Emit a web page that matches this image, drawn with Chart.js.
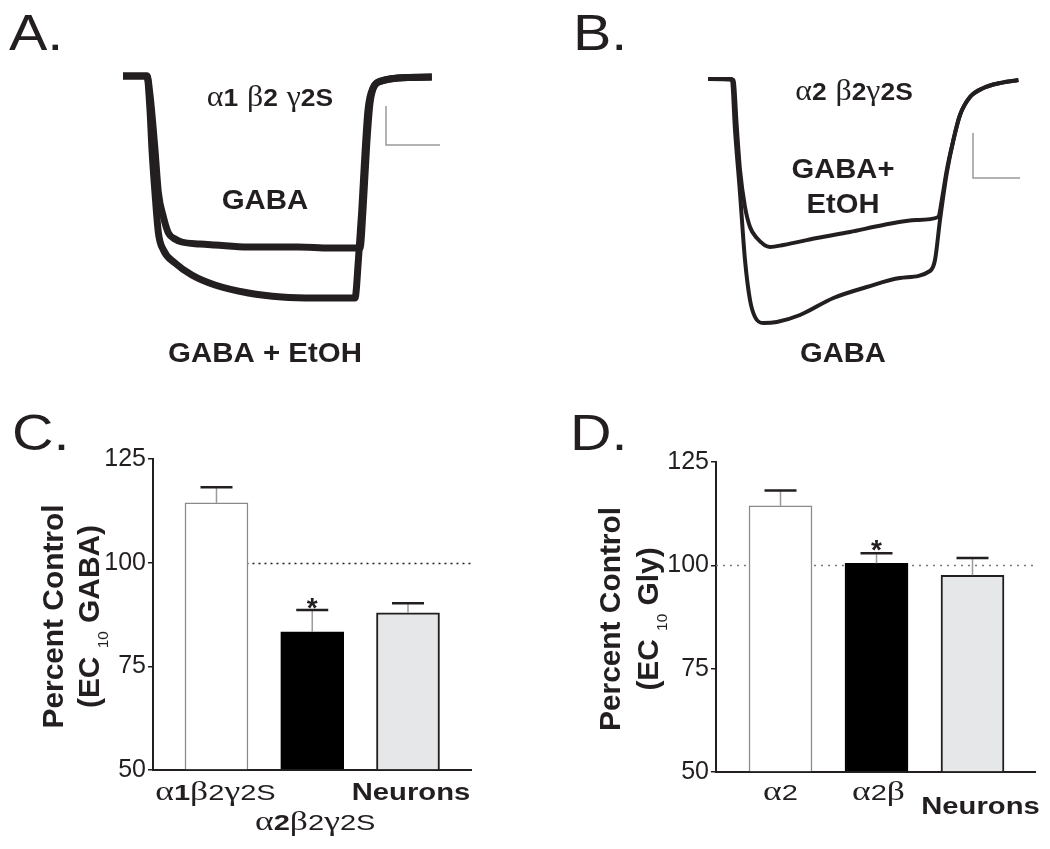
<!DOCTYPE html>
<html>
<head>
<meta charset="utf-8">
<title>GABA-A receptor ethanol responses</title>
<script src="https://cdn.jsdelivr.net/npm/chart.js@4.4.1/dist/chart.umd.min.js"></script>
<style>
  body { margin: 0; background: #fff; width: 1050px; height: 849px; position: relative; overflow: hidden; }
  .letter { position: absolute; font: 50px "Liberation Sans", Arial, sans-serif; line-height: 1; color: #231f20; transform: scaleX(1.15); transform-origin: left top; }
  canvas { position: absolute; }
</style>
</head>
<body>
<div class="letter" style="left:9px;top:8px">A.</div>
<div class="letter" style="left:573px;top:8px">B.</div>
<div class="letter" style="left:12px;top:408px">C.</div>
<div class="letter" style="left:570px;top:408px">D.</div>

<canvas id="chartA" width="520" height="380" style="left:0;top:0"></canvas>
<canvas id="chartB" width="520" height="380" style="left:530px;top:0"></canvas>
<canvas id="chartC" width="525" height="469" style="left:0;top:380px"></canvas>
<canvas id="chartD" width="520" height="469" style="left:530px;top:380px"></canvas>

<script>
/* ---- data: current traces (time in s, current in nA) ---- */

// A: alpha1 beta2 gamma2S
const aGabaTime = [0, 1.2, 1.35, 1.6, 1.77, 2.02, 2.27, 2.6, 2.94, 3.85, 4.6, 6.25, 8.75, 10.35, 11.85, 12.0, 12.19, 12.35, 12.6, 13.1, 13.75, 15.44];
const aGabaCurrent = [0, 0, -0.19, -0.74, -1.17, -1.41, -1.57, -1.63, -1.66, -1.68, -1.69, -1.71, -1.71, -1.72, -1.72, -1.34, -0.67, -0.27, -0.09, -0.04, -0.02, -0.01];
const aEtohTime = [0, 1.2, 1.35, 1.45, 1.6, 1.77, 2.02, 2.6, 3.44, 4.6, 6.27, 7.94, 9.6, 11.6, 11.77, 11.94, 12.1, 12.25, 12.5, 12.94, 13.75, 15.44];
const aEtohCurrent = [0, 0, -0.34, -0.74, -1.17, -1.57, -1.74, -1.87, -1.99, -2.09, -2.17, -2.21, -2.22, -2.22, -1.84, -1.34, -0.77, -0.34, -0.12, -0.05, -0.02, -0.01];
const aScaleBar = [13.15, -0.69, 2.7, 0.39]; // t0, i0, dt, di

// B: alpha2 beta2 gamma2S
const bGabaTime = [0, 1.19, 1.35, 1.6, 1.85, 2.1, 2.35, 2.77, 3.44, 4.6, 6.27, 7.94, 9.6, 11.1, 11.35, 11.6, 11.94, 12.27, 12.6, 13.1, 13.77, 14.6, 15.52];
const bGabaCurrent = [0, 0, -0.51, -1.14, -1.81, -2.21, -2.38, -2.44, -2.43, -2.36, -2.19, -2.08, -1.99, -1.92, -1.81, -1.41, -0.94, -0.61, -0.36, -0.18, -0.09, -0.04, -0.01];
const bEtohTime = [0, 1.27, 1.44, 1.6, 1.85, 2.1, 2.44, 3.1, 3.77, 5.44, 7.1, 8.77, 10.44, 11.52, 11.69, 11.94, 12.27, 12.6, 13.1, 13.77, 14.6, 15.52];
const bEtohCurrent = [0, -0.01, -0.48, -0.91, -1.28, -1.48, -1.59, -1.68, -1.66, -1.59, -1.53, -1.46, -1.41, -1.38, -1.21, -0.91, -0.61, -0.36, -0.18, -0.09, -0.04, -0.01];
const bScaleBar = [13.25, -0.99, 2.35, 0.45];

/* ---- data: percent of control ---- */
const cCategories = ["α1β2γ2S", "α2β2γ2S", "Neurons"];
const cValues = [114.4, 83.3, 87.9];
const cErrors = [3.8, 5.3, 2.3];
const cSignificant = [false, true, false];

const dCategories = ["α2", "α2β", "Neurons"];
const dValues = [114.4, 100.5, 97.6];
const dErrors = [3.7, 2.4, 4.2];
const dSignificant = [false, true, false];

const yTicks = [50, 75, 100, 125];
const controlLevel = 100;

/* ---- style ---- */
const INK = "#231f20";
const SANS = '"Liberation Sans", Arial, sans-serif';
const SERIF = '"Liberation Serif", "Times New Roman", serif';
const barFills = ["#ffffff", "#000000", "#e6e7e8"];
const barBorders = ["#8a8a8a", "#000000", INK];
const barBorderWidths = [1.5, 1.5, 2];

Chart.defaults.font.family = SANS;
Chart.defaults.color = INK;

function drawRuns(ctx, runs, x, y, opt = {}) {
  ctx.save();
  ctx.translate(x, y);
  if (opt.rotate) ctx.rotate(opt.rotate);
  ctx.scale(opt.sx || 1, 1);
  let total = 0;
  runs.forEach((r) => {
    if (r.gap) { r.w = r.gap; } else { ctx.font = r.font; r.w = ctx.measureText(r.text).width; }
    total += r.w;
  });
  let cx = opt.align === "left" ? 0 : opt.align === "right" ? -total : -total / 2;
  ctx.fillStyle = INK;
  ctx.textAlign = "left";
  ctx.textBaseline = "alphabetic";
  runs.forEach((r) => {
    if (!r.gap) {
      ctx.font = r.font;
      ctx.fillText(r.text, cx, r.dy || 0);
    }
    cx += r.w;
  });
  ctx.restore();
}

const bold = (t, s) => ({ text: t, font: `bold ${s}px ${SANS}` });
const plain = (t, s) => ({ text: t, font: `${s}px ${SANS}` });
const greek = (t, s) => ({ text: t, font: `${s}px ${SERIF}` });

// subunit header, e.g. α1 β2 γ2S
function headerRuns(parts) {
  const runs = [];
  parts.forEach((p) => {
    if (p === " ") runs.push({ gap: 8 });
    else if (/[α-ω]/.test(p)) runs.push(greek(p, 29));
    else runs.push(bold(p, 24));
  });
  return runs;
}

// category label under a bar
function categoryRuns(label, boldSubunit) {
  if (!/[α-ω]/.test(label)) return { runs: [bold(label, 23)], sx: 1.27 };
  const runs = [...label].map((ch, i) => {
    if (/[α-ω]/.test(ch)) return greek(ch, 27);
    if (boldSubunit && label[i - 1] === "α") return bold(ch, 22);
    return plain(ch, 22);
  });
  return { runs, sx: 1.32 };
}

/* ---- panels A and B: traces ---- */
function points(t, v) {
  return t.map((x, i) => ({ x, y: v[i] }));
}

function tracePlugin(bar, texts) {
  return {
    id: "traceExtras",
    afterDraw(chart) {
      const { ctx, scales: { x, y } } = chart;
      const x0 = x.getPixelForValue(bar[0]);
      const x1 = x.getPixelForValue(bar[0] + bar[2]);
      const y0 = y.getPixelForValue(bar[1]);
      const y1 = y.getPixelForValue(bar[1] + bar[3]);
      ctx.save();
      ctx.strokeStyle = "#9a9a9a";
      ctx.lineWidth = 1.5;
      ctx.beginPath();
      ctx.moveTo(x0, y1);
      ctx.lineTo(x0, y0);
      ctx.lineTo(x1, y0);
      ctx.stroke();
      ctx.restore();
      texts.forEach((t) => drawRuns(ctx, t.runs, t.x, t.y, { sx: t.sx }));
    },
  };
}

function traceChart(id, series, width, padding, yMin, bar, texts) {
  return new Chart(document.getElementById(id), {
    type: "line",
    data: {
      datasets: series.map((s) => ({
        data: points(s.t, s.v),
        borderColor: INK,
        borderWidth: width,
        pointRadius: 0,
        cubicInterpolationMode: "monotone",
        clip: false,
      })),
    },
    options: {
      responsive: false,
      animation: false,
      events: [],
      layout: { padding },
      plugins: { legend: { display: false }, tooltip: { enabled: false } },
      scales: {
        x: { type: "linear", display: false, min: 0, max: 15.5 },
        y: { type: "linear", display: false, min: yMin, max: 0.1 },
      },
    },
    plugins: [tracePlugin(bar, texts)],
  });
}

traceChart("chartA",
  [{ t: aGabaTime, v: aGabaCurrent }, { t: aEtohTime, v: aEtohCurrent }],
  7, { left: 123, right: 87, top: 66, bottom: 64 }, -2.4, aScaleBar,
  [
    { runs: headerRuns(["α", "1", " ", "β", "2", " ", "γ", "2S"]), x: 270, y: 106, sx: 1.1 },
    { runs: [bold("GABA", 27)], x: 265, y: 209, sx: 1.09 },
    { runs: [bold("GABA + EtOH", 27)], x: 265, y: 362, sx: 1.09 },
  ]);

traceChart("chartB",
  [{ t: bGabaTime, v: bGabaCurrent }, { t: bEtohTime, v: bEtohCurrent }],
  4, { left: 178, right: 32, top: 69, bottom: 51 }, -2.5, bScaleBar,
  [
    { runs: headerRuns(["α", "2", " ", "β", "2", "γ", "2S"]), x: 324, y: 100, sx: 1.1 },
    { runs: [bold("GABA+", 27)], x: 313, y: 178, sx: 1.08 },
    { runs: [bold("EtOH", 27)], x: 313, y: 213, sx: 1.08 },
    { runs: [bold("GABA", 27)], x: 313, y: 362, sx: 1.08 },
  ]);

/* ---- panels C and D: bars ---- */
function barPlugin(cfg) {
  return {
    id: "barExtras",
    beforeDatasetsDraw(chart) {
      const { ctx, chartArea, scales: { x, y } } = chart;
      const yr = Math.round(y.getPixelForValue(controlLevel)) + 0.5;
      ctx.save();
      ctx.strokeStyle = cfg.refColor;
      ctx.lineWidth = 1.5;
      ctx.setLineDash(cfg.refDash);
      ctx.beginPath();
      ctx.moveTo(x.getPixelForValue(cfg.refFrom), yr);
      ctx.lineTo(chartArea.right, yr);
      ctx.stroke();
      ctx.restore();
    },
    afterDatasetsDraw(chart) {
      const { ctx, scales: { x, y } } = chart;
      ctx.save();
      cfg.values.forEach((v, i) => {
        const xp = x.getPixelForValue(i);
        const top = y.getPixelForValue(v);
        const cap = y.getPixelForValue(v + cfg.errors[i]);
        ctx.strokeStyle = "#9a9a9a";
        ctx.lineWidth = 1.5;
        ctx.beginPath();
        ctx.moveTo(xp, top);
        ctx.lineTo(xp, cap);
        ctx.stroke();
        ctx.strokeStyle = INK;
        ctx.lineWidth = 2.5;
        ctx.beginPath();
        ctx.moveTo(xp - 16, cap);
        ctx.lineTo(xp + 16, cap);
        ctx.stroke();
        if (cfg.significant[i]) {
          drawRuns(ctx, [bold("*", 28)], xp, cap + cfg.starDrop, {});
        }
      });
      ctx.restore();
    },
    afterDraw(chart) {
      const { ctx, chartArea, scales: { x } } = chart;
      cfg.categories.forEach((c, i) => {
        const lab = categoryRuns(c, cfg.boldSubunit);
        drawRuns(ctx, lab.runs, x.getPixelForValue(i) + cfg.labelShift[i], chartArea.bottom + cfg.labelDrop[i], { sx: lab.sx });
      });
      const cy = (chartArea.top + chartArea.bottom) / 2 + 2;
      const rot = -Math.PI / 2;
      drawRuns(ctx, [{ ...bold("Percent Control", 29), dy: 10 }], chartArea.left - cfg.titleOffsets[0], cy, { rotate: rot, sx: 1.03 });
      drawRuns(ctx, [
        { ...bold("(EC", 29), dy: 10 },
        { gap: 8 },
        { ...plain("10", 15), dy: 19 },
        { gap: 8 },
        { ...bold(cfg.agonist + ")", 29), dy: 10 },
      ], chartArea.left - cfg.titleOffsets[1], cy, { rotate: rot, sx: 1.03 });
    },
  };
}

function barChart(id, cfg) {
  return new Chart(document.getElementById(id), {
    type: "bar",
    data: {
      datasets: [{
        data: cfg.values.map((v, i) => ({ x: i, y: v })),
        base: yTicks[0],
        backgroundColor: barFills,
        borderColor: barBorders,
        borderWidth: barBorderWidths,
        borderSkipped: "bottom",
        barThickness: 63,
      }],
    },
    options: {
      responsive: false,
      animation: false,
      events: [],
      layout: { padding: cfg.padding },
      plugins: { legend: { display: false }, tooltip: { enabled: false } },
      scales: {
        x: {
          type: "linear",
          offset: false,
          min: cfg.xRange[0],
          max: cfg.xRange[1],
          grid: { display: false },
          ticks: { display: false },
          border: { display: true, color: INK, width: 2 },
        },
        y: {
          min: yTicks[0],
          max: yTicks[yTicks.length - 1],
          afterBuildTicks: (s) => { s.ticks = yTicks.map((v) => ({ value: v })); },
          afterFit: (s) => { s.width = cfg.axisWidth; },
          grid: { drawOnChartArea: false, drawTicks: true, tickLength: 5, color: INK, lineWidth: 1.5 },
          border: { display: true, color: INK, width: 2 },
          ticks: { font: { size: 25 }, color: INK, padding: 2 },
        },
      },
    },
    plugins: [barPlugin(cfg)],
  });
}

barChart("chartC", {
  values: cValues,
  errors: cErrors,
  significant: cSignificant,
  categories: cCategories,
  boldSubunit: true,
  agonist: "GABA",
  padding: { left: 0, right: 54, top: 79, bottom: 71 },
  axisWidth: 153,
  xRange: [-0.663, 2.658],
  refFrom: 0,
  refColor: "#231f20",
  refDash: [2, 4],
  starDrop: 7,
  labelDrop: [30, 60, 30],
  labelShift: [-1, 3, 3],
  titleOffsets: [100, 64],
});

barChart("chartD", {
  values: dValues,
  errors: dErrors,
  significant: dSignificant,
  categories: dCategories,
  boldSubunit: false,
  agonist: "Gly",
  padding: { left: 0, right: 15, top: 82, bottom: 69 },
  axisWidth: 186,
  xRange: [-0.672, 2.651],
  refFrom: -0.672,
  refColor: "#7a7a7a",
  refDash: [2, 5],
  starDrop: 6,
  labelDrop: [28, 28, 42],
  labelShift: [0, 2, 8],
  titleOffsets: [106, 68],
});
</script>
</body>
</html>
